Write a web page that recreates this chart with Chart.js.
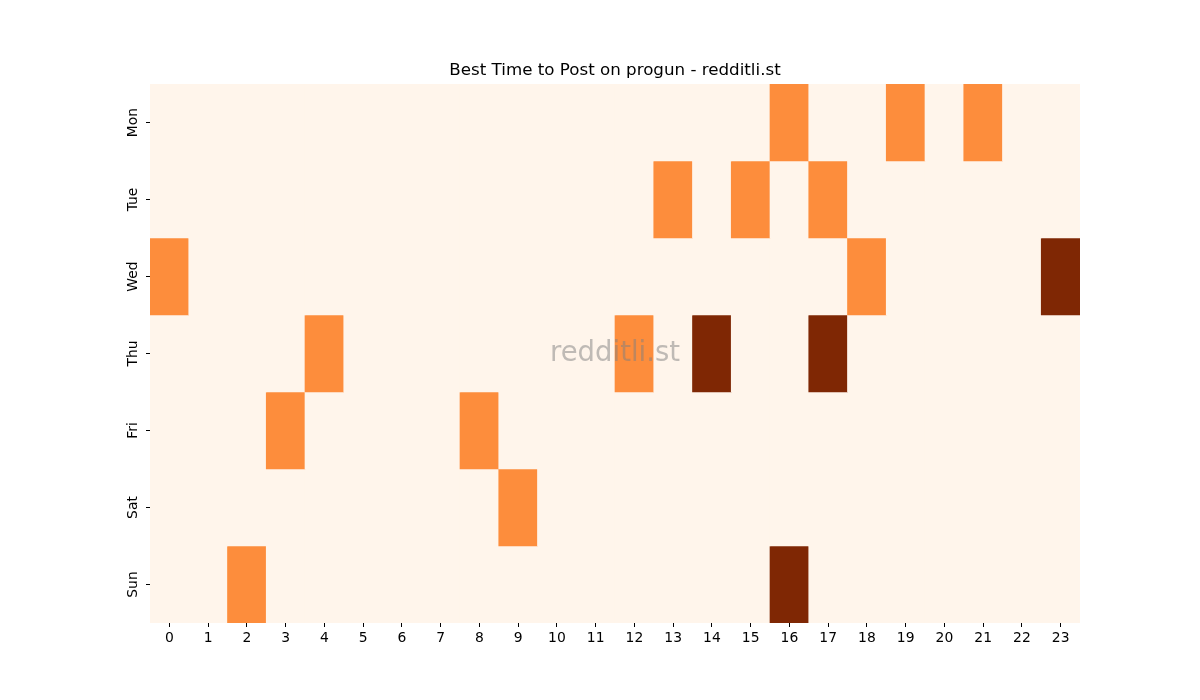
<!DOCTYPE html>
<html>
<head>
<meta charset="utf-8">
<script src="https://cdn.jsdelivr.net/npm/chart.js@4/dist/chart.umd.min.js"></script>
<style>
  html, body { margin: 0; padding: 0; background: #fff; }
  #wrap { width: 1200px; height: 700px; }
</style>
</head>
<body>
<div id="wrap"><canvas id="heat" width="1200" height="700"></canvas></div>
<script>
// Heatmap data: rows are days, columns are hours (0 = none, 1 = good, 2 = best)
const hours = ['0','1','2','3','4','5','6','7','8','9','10','11','12','13','14','15','16','17','18','19','20','21','22','23'];
const days  = ['Mon', 'Tue', 'Wed', 'Thu', 'Fri', 'Sat', 'Sun'];

const mon = [0,0,0,0,0,0,0,0,0,0,0,0,0,0,0,0,1,0,0,1,0,1,0,0];
const tue = [0,0,0,0,0,0,0,0,0,0,0,0,0,1,0,1,0,1,0,0,0,0,0,0];
const wed = [1,0,0,0,0,0,0,0,0,0,0,0,0,0,0,0,0,0,1,0,0,0,0,2];
const thu = [0,0,0,0,1,0,0,0,0,0,0,0,1,0,2,0,0,2,0,0,0,0,0,0];
const fri = [0,0,0,1,0,0,0,0,1,0,0,0,0,0,0,0,0,0,0,0,0,0,0,0];
const sat = [0,0,0,0,0,0,0,0,0,1,0,0,0,0,0,0,0,0,0,0,0,0,0,0];
const sun = [0,0,1,0,0,0,0,0,0,0,0,0,0,0,0,0,2,0,0,0,0,0,0,0];
const grid = [mon, tue, wed, thu, fri, sat, sun];

const TITLE = 'Best Time to Post on progun - redditli.st';

// Oranges colormap at 0, 0.5, 1
const SHADES = ['#fff5eb', '#fd8d3c', '#7f2704'];

const datasets = grid.map((row, r) => ({
  label: days[r],
  data: row.map(() => [r - 0.5, r + 0.5]),
  backgroundColor: row.map(v => SHADES[v]),
  borderWidth: 0,
  borderSkipped: false,
  barPercentage: 1,
  categoryPercentage: 1,
  grouped: false
}));

// Fill the plot area first so no seams show between cells
const bgPlugin = {
  id: 'bg',
  beforeDatasetsDraw(chart) {
    const { ctx, chartArea: a } = chart;
    ctx.save();
    ctx.fillStyle = SHADES[0];
    ctx.fillRect(a.left, a.top, a.right - a.left, a.bottom - a.top);
    ctx.restore();
  }
};

// Watermark in the middle of the plot, title centred over the plot
const overlay = {
  id: 'overlay',
  afterDatasetsDraw(chart) {
    const { ctx, chartArea: a } = chart;
    const cx = (a.left + a.right) / 2;
    ctx.save();
    ctx.textAlign = 'center';
    ctx.textBaseline = 'middle';
    ctx.font = '27.5px "DejaVu Sans"';
    ctx.fillStyle = 'rgba(128,128,128,0.5)';
    ctx.fillText('redditli.st', cx, (a.top + a.bottom) / 2);
    ctx.font = '16.7px "DejaVu Sans"';
    ctx.fillStyle = '#000';
    ctx.fillText(TITLE, cx, a.top - 13);
    ctx.restore();
  }
};

Chart.defaults.font.family = '"DejaVu Sans", sans-serif';
Chart.defaults.color = '#000';

new Chart(document.getElementById('heat').getContext('2d'), {
  type: 'bar',
  data: { labels: hours, datasets },
  plugins: [bgPlugin, overlay],
  options: {
    responsive: false,
    animation: false,
    layout: { padding: { left: 0, right: 120, top: 84, bottom: 0 } },
    plugins: {
      legend: { display: false },
      tooltip: { enabled: false },
      title: { display: false }
    },
    scales: {
      x: {
        type: 'category',
        offset: true,
        grid: { display: true, drawOnChartArea: false, drawTicks: true, tickLength: 4, color: '#000', offset: false },
        border: { display: false },
        ticks: { font: { size: 13.9 }, color: '#000', padding: 3, maxRotation: 0, autoSkip: false },
        afterFit(s) { s.height = 77; }
      },
      y: {
        type: 'linear',
        min: -0.5,
        max: 6.5,
        reverse: true,
        grid: { display: true, drawOnChartArea: false, drawTicks: true, tickLength: 4, color: '#000' },
        border: { display: false },
        afterBuildTicks(s) { s.ticks = days.map((d, i) => ({ value: i })); },
        ticks: {
          font: { size: 13.9 },
          color: '#000',
          padding: -3,
          minRotation: 90,
          maxRotation: 90,
          crossAlign: 'center',
          callback: v => days[v]
        },
        afterFit(s) { s.width = 150; }
      }
    }
  }
});
</script>
</body>
</html>
